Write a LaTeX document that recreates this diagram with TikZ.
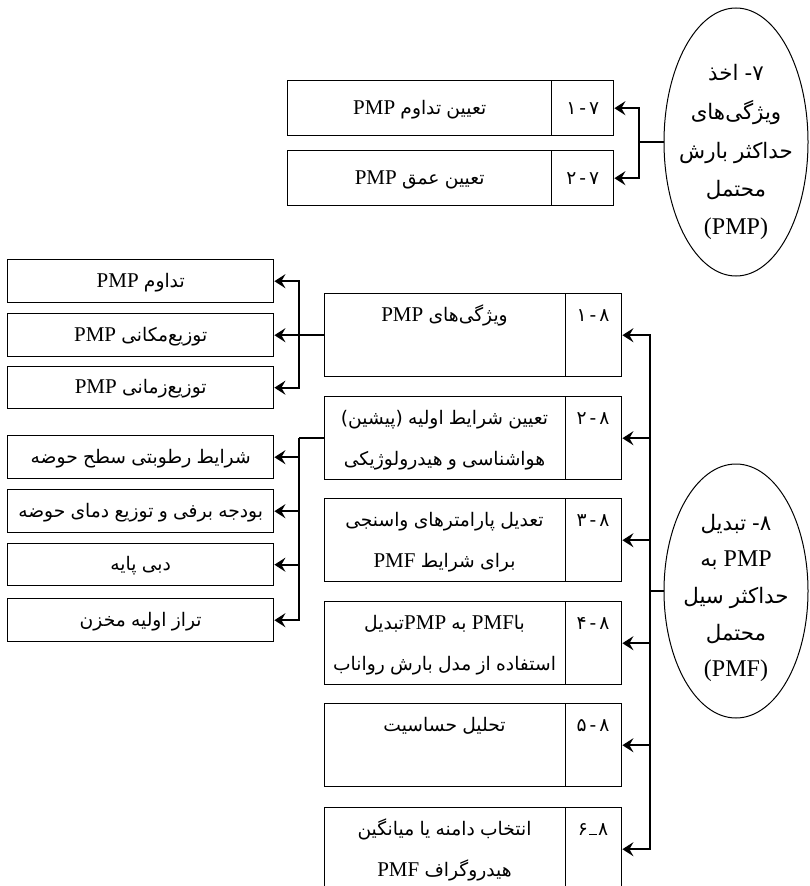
\documentclass[tikz,border=0pt]{standalone}
\usepackage{fontspec}
\setmainfont{Liberation Serif}
\newfontfamily\fa[Script=Arabic,Scale=0.89]{DejaVu Sans}
\TeXXeTstate=1
\usetikzlibrary{arrows.meta,shapes.geometric}
\newcommand\pw[1]{\hbox{\fa #1}}
\newcommand\pl[1]{\hbox{#1}}
\begin{document}
\begin{tikzpicture}[x=1pt,y=-1pt,
  box/.style={draw,line width=1.4pt,rectangle,inner sep=0pt,anchor=north west},
  txt/.style={inner sep=0pt,font=\fontsize{21}{25}\selectfont,text height=15pt,text depth=3pt},
  etxt/.style={inner sep=0pt,font=\fontsize{24}{28}\selectfont,text height=17pt,text depth=3pt},
  conn/.style={line width=1.6pt},
  arr/.style={line width=1.6pt,-{Stealth[length=11pt,width=14pt,inset=4pt]}},
  oval/.style={draw,ellipse,line width=1pt,inner sep=0pt}]
\useasboundingbox (0,0) rectangle (809,886);
\clip (0,0) rectangle (809,886);
% ---------- section 7 ----------
\node[oval,minimum width=144pt,minimum height=268pt] (e7) at (736,142) {};
\node[etxt] (e7a) at (736,73) {\beginR\pw{۷}\pw{-} \pw{اخذ}\endR};
\node[etxt] (e7b) at (736,112) {\pw{ویژگی‌های}};
\node[etxt] (e7c) at (736,151) {\beginR\pw{حداکثر} \pw{بارش}\endR};
\node[etxt] (e7d) at (736,189) {\pw{محتمل}};
\node[etxt] (e7e) at (736,227) {(PMP)};
\node[box,minimum width=264pt,minimum height=55pt] (b71m) at (287,80) {};
\node[box,minimum width=62pt,minimum height=55pt] (b71n) at (551,80) {};
\node[box,minimum width=264pt,minimum height=55pt] (b72m) at (287,150) {};
\node[box,minimum width=62pt,minimum height=55pt] (b72n) at (551,150) {};
\node[txt] (t71m) at (b71m.center) {\beginR\pw{تعیین} \pw{تداوم} \pl{PMP}\endR};
\node[txt] (t71n) at (b71n.center) {\beginR\pw{۷}\kern3pt\pw{-}\kern3pt\pw{۱}\endR};
\node[txt] (t72m) at (b72m.center) {\beginR\pw{تعیین} \pw{عمق} \pl{PMP}\endR};
\node[txt] (t72n) at (b72n.center) {\beginR\pw{۷}\kern3pt\pw{-}\kern3pt\pw{۲}\endR};
\coordinate (j7) at (639,142);
\draw[conn] (e7.west) -- (j7);
\draw[arr] (j7) |- (b71n.east);
\draw[arr] (j7) |- (b72n.east);
% ---------- section 8 ----------
\node[oval,minimum width=144pt,minimum height=254pt] (e8) at (736,591) {};
\node[etxt] (e8a) at (736,523) {\beginR\pw{۸}\pw{-} \pw{تبدیل}\endR};
\node[etxt] (e8b) at (736,559) {\beginR\pl{PMP} \pw{به}\endR};
\node[etxt] (e8c) at (736,596) {\beginR\pw{حداکثر} \pw{سیل}\endR};
\node[etxt] (e8d) at (736,633) {\pw{محتمل}};
\node[etxt] (e8e) at (736,669) {(PMF)};
% main boxes
\node[box,minimum width=241pt,minimum height=83pt] (b81m) at (324,293) {};
\node[box,minimum width=56pt,minimum height=83pt] (b81n) at (565,293) {};
\node[box,minimum width=241pt,minimum height=83pt] (b82m) at (324,396) {};
\node[box,minimum width=56pt,minimum height=83pt] (b82n) at (565,396) {};
\node[box,minimum width=241pt,minimum height=83pt] (b83m) at (324,498) {};
\node[box,minimum width=56pt,minimum height=83pt] (b83n) at (565,498) {};
\node[box,minimum width=241pt,minimum height=83pt] (b84m) at (324,601) {};
\node[box,minimum width=56pt,minimum height=83pt] (b84n) at (565,601) {};
\node[box,minimum width=241pt,minimum height=83pt] (b85m) at (324,703) {};
\node[box,minimum width=56pt,minimum height=83pt] (b85n) at (565,703) {};
\node[box,minimum width=241pt,minimum height=83pt] (b86m) at (324,807) {};
\node[box,minimum width=56pt,minimum height=83pt] (b86n) at (565,807) {};
% texts of main boxes
\node[txt] (n81) at (593,315) {\beginR\pw{۸}\kern3pt\pw{-}\kern3pt\pw{۱}\endR};
\node[txt] (t81a) at (444.5,315) {\beginR\pw{ویژگی‌های} \pl{PMP}\endR};
\node[txt] (n82) at (593,418) {\beginR\pw{۸}\kern3pt\pw{-}\kern3pt\pw{۲}\endR};
\node[txt] (t82a) at (444.5,418) {\beginR\pw{تعیین} \pw{شرایط} \pw{اولیه} \pw{(پیشین)}\endR};
\node[txt] (t82b) at (444.5,459) {\beginR\pw{هواشناسی} \pw{و} \pw{هیدرولوژیکی}\endR};
\node[txt] (n83) at (593,520) {\beginR\pw{۸}\kern3pt\pw{-}\kern3pt\pw{۳}\endR};
\node[txt] (t83a) at (444.5,520) {\beginR\pw{تعدیل} \pw{پارامترهای} \pw{واسنجی}\endR};
\node[txt] (t83b) at (444.5,561) {\beginR\pw{برای} \pw{شرایط} \pl{PMF}\endR};
\node[txt] (n84) at (593,623) {\beginR\pw{۸}\kern3pt\pw{-}\kern3pt\pw{۴}\endR};
\node[txt] (t84a) at (444.5,623) {\beginR\pw{با}\pl{PMF} \pw{به} \pl{PMP}\pw{تبدیل}\endR};
\node[txt] (t84b) at (444.5,664) {\beginR\pw{استفاده} \pw{از} \pw{مدل} \pw{بارش} \pw{رواناب}\endR};
\node[txt] (n85) at (593,725) {\beginR\pw{۸}\kern3pt\pw{-}\kern3pt\pw{۵}\endR};
\node[txt] (t85a) at (444.5,725) {\beginR\pw{تحلیل} \pw{حساسیت}\endR};
\node[txt] (n86) at (593,829) {\beginR\pw{۸}\kern1pt\rule{8pt}{1.2pt}\kern1pt\pw{۶}\endR};
\node[txt] (t86a) at (444.5,829) {\beginR\pw{انتخاب} \pw{دامنه} \pw{یا} \pw{میانگین}\endR};
\node[txt] (t86b) at (444.5,870) {\beginR\pw{هیدروگراف} \pl{PMF}\endR};
\coordinate (j8) at (650,591);
\draw[conn] (e8.west) -- (j8);
\foreach \b in {b81n,b82n,b83n,b84n,b85n,b86n}{\draw[arr] (j8) |- (\b.east);}
% left boxes
\node[box,minimum width=266pt,minimum height=43pt] (l1) at (7,259) {};
\node[box,minimum width=266pt,minimum height=43pt] (l2) at (7,313) {};
\node[box,minimum width=266pt,minimum height=42pt] (l3) at (7,366) {};
\node[box,minimum width=266pt,minimum height=43pt] (l4) at (7,435) {};
\node[box,minimum width=266pt,minimum height=43pt] (l5) at (7,489) {};
\node[box,minimum width=266pt,minimum height=42pt] (l6) at (7,543) {};
\node[box,minimum width=266pt,minimum height=43pt] (l7) at (7,598) {};
\node[txt] (tl1) at (l1.center) {\beginR\pw{تداوم} \pl{PMP}\endR};
\node[txt] (tl2) at (l2.center) {\beginR\pw{توزیع‌مکانی} \pl{PMP}\endR};
\node[txt] (tl3) at (l3.center) {\beginR\pw{توزیع‌زمانی} \pl{PMP}\endR};
\node[txt] (tl4) at (l4.center) {\beginR\pw{شرایط} \pw{رطوبتی} \pw{سطح} \pw{حوضه}\endR};
\node[txt] (tl5) at (l5.center) {\beginR\pw{بودجه} \pw{برفی} \pw{و} \pw{توزیع} \pw{دمای} \pw{حوضه}\endR};
\node[txt] (tl6) at (l6.center) {\beginR\pw{دبی} \pw{پایه}\endR};
\node[txt] (tl7) at (l7.center) {\beginR\pw{تراز} \pw{اولیه} \pw{مخزن}\endR};
\path (b81m.west) ++(-25,0) coordinate (jA);
\path (b82m.west) ++(-25,0) coordinate (jB);
\draw[conn] (b81m.west) -- (jA);
\draw[conn] (b82m.west) -- (jB);
\foreach \b in {l1,l2,l3}{\draw[arr] (jA) |- (\b.east);}
\foreach \b in {l4,l5,l6,l7}{\draw[arr] (jB) |- (\b.east);}
\end{tikzpicture}
\end{document}
